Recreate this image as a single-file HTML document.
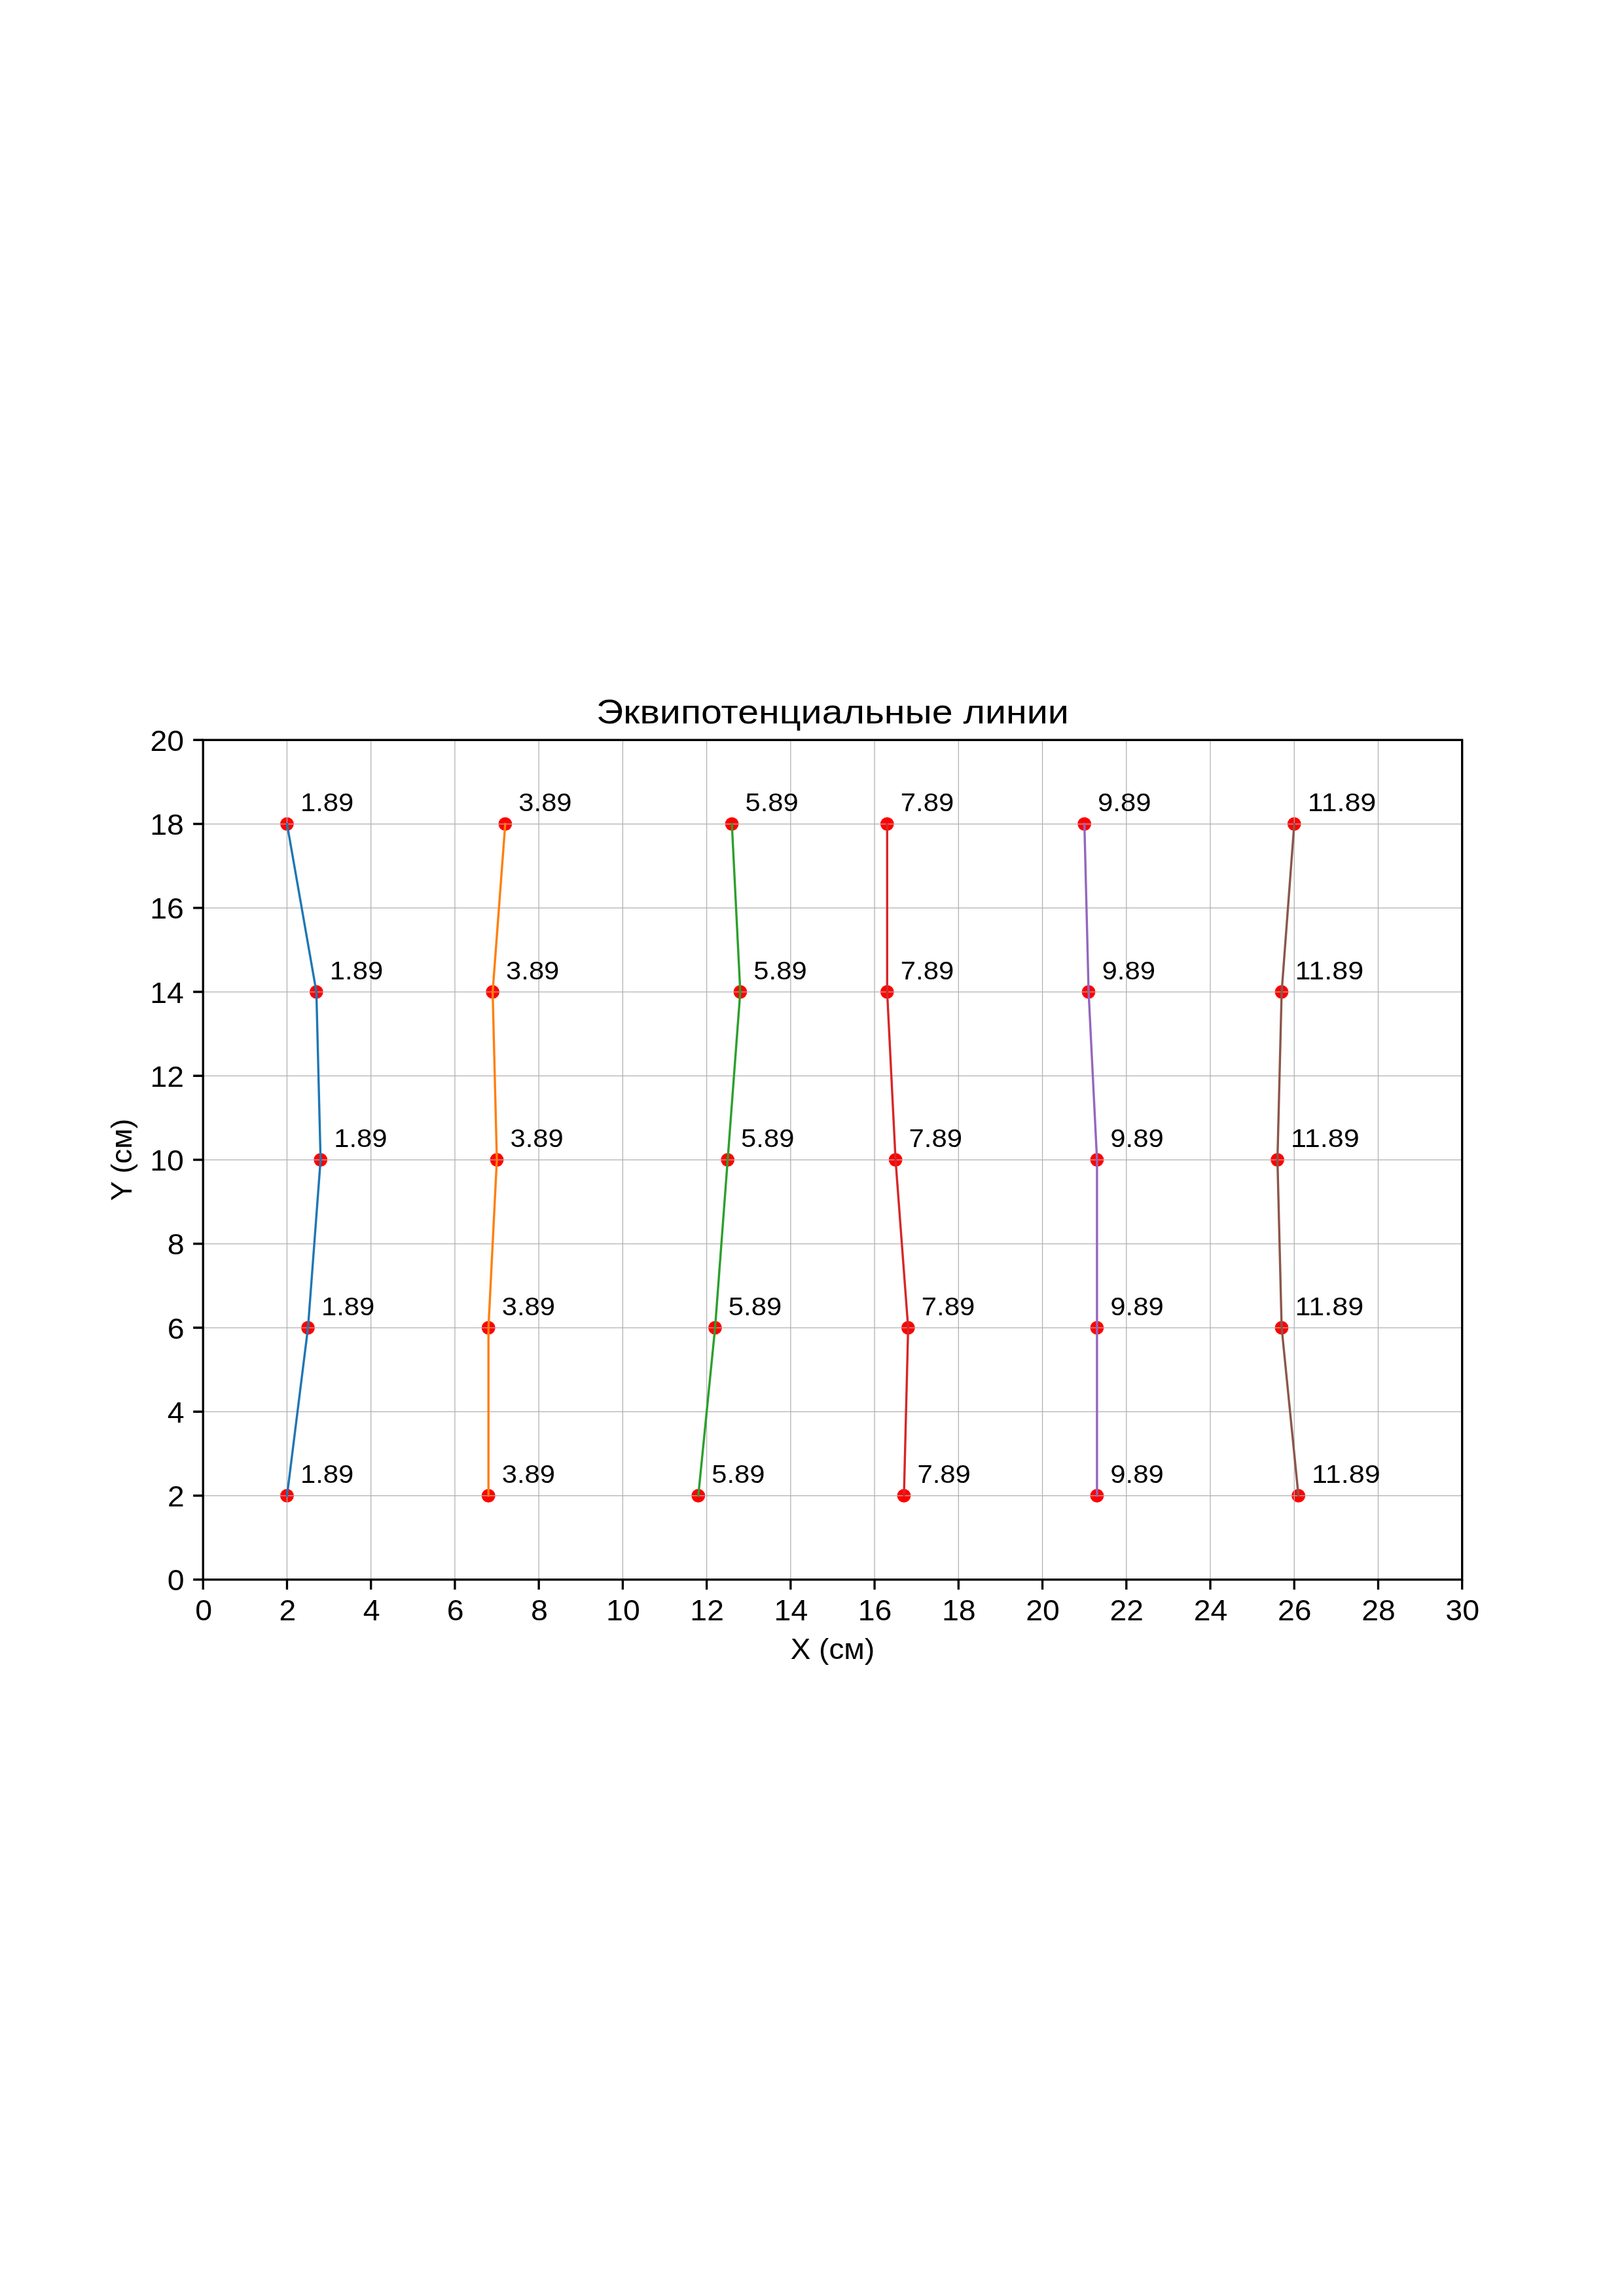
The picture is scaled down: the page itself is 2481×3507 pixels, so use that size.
<!DOCTYPE html>
<html><head><meta charset="utf-8"><title>Эквипотенциальные линии</title>
<style>html,body{margin:0;padding:0;background:#fff;}svg{display:block;will-change:transform;}text{font-family:"Liberation Sans",sans-serif;fill:#000;}</style></head><body>
<svg width="2481" height="3507" viewBox="0 0 2481 3507">
<rect width="2481" height="3507" fill="#fff"/>
<g fill="#ff0000">
<circle cx="438.47" cy="1258.53" r="10.4"/><circle cx="483.35" cy="1515.03" r="10.4"/><circle cx="489.76" cy="1771.53" r="10.4"/><circle cx="470.53" cy="2028.03" r="10.4"/><circle cx="438.47" cy="2284.53" r="10.4"/><circle cx="771.87" cy="1258.53" r="10.4"/><circle cx="752.64" cy="1515.03" r="10.4"/><circle cx="759.05" cy="1771.53" r="10.4"/><circle cx="746.22" cy="2028.03" r="10.4"/><circle cx="746.22" cy="2284.53" r="10.4"/><circle cx="1118.09" cy="1258.53" r="10.4"/><circle cx="1130.92" cy="1515.03" r="10.4"/><circle cx="1111.68" cy="1771.53" r="10.4"/><circle cx="1092.45" cy="2028.03" r="10.4"/><circle cx="1066.8" cy="2284.53" r="10.4"/><circle cx="1355.32" cy="1258.53" r="10.4"/><circle cx="1355.32" cy="1515.03" r="10.4"/><circle cx="1368.14" cy="1771.53" r="10.4"/><circle cx="1387.38" cy="2028.03" r="10.4"/><circle cx="1380.97" cy="2284.53" r="10.4"/><circle cx="1656.66" cy="1258.53" r="10.4"/><circle cx="1663.07" cy="1515.03" r="10.4"/><circle cx="1675.9" cy="1771.53" r="10.4"/><circle cx="1675.9" cy="2028.03" r="10.4"/><circle cx="1675.9" cy="2284.53" r="10.4"/><circle cx="1977.24" cy="1258.53" r="10.4"/><circle cx="1958" cy="1515.03" r="10.4"/><circle cx="1951.59" cy="1771.53" r="10.4"/><circle cx="1958" cy="2028.03" r="10.4"/><circle cx="1983.65" cy="2284.53" r="10.4"/>
</g>
<g stroke="#b0b0b0" stroke-width="1.25" fill="none">
<path d="M438.47 1130.28V2412.78M566.7 1130.28V2412.78M694.93 1130.28V2412.78M823.16 1130.28V2412.78M951.39 1130.28V2412.78M1079.62 1130.28V2412.78M1207.85 1130.28V2412.78M1336.09 1130.28V2412.78M1464.32 1130.28V2412.78M1592.55 1130.28V2412.78M1720.78 1130.28V2412.78M1849.01 1130.28V2412.78M1977.24 1130.28V2412.78M2105.47 1130.28V2412.78M310.24 2284.53H2233.7M310.24 2156.28H2233.7M310.24 2028.03H2233.7M310.24 1899.78H2233.7M310.24 1771.53H2233.7M310.24 1643.28H2233.7M310.24 1515.03H2233.7M310.24 1386.78H2233.7M310.24 1258.53H2233.7"/>
</g>
<polyline points="438.47,1258.53 483.35,1515.03 489.76,1771.53 470.53,2028.03 438.47,2284.53" fill="none" stroke="#1f77b4" stroke-width="3.4" stroke-linejoin="round" stroke-linecap="square"/>
<polyline points="771.87,1258.53 752.64,1515.03 759.05,1771.53 746.22,2028.03 746.22,2284.53" fill="none" stroke="#ff7f0e" stroke-width="3.4" stroke-linejoin="round" stroke-linecap="square"/>
<polyline points="1118.09,1258.53 1130.92,1515.03 1111.68,1771.53 1092.45,2028.03 1066.8,2284.53" fill="none" stroke="#2ca02c" stroke-width="3.4" stroke-linejoin="round" stroke-linecap="square"/>
<polyline points="1355.32,1258.53 1355.32,1515.03 1368.14,1771.53 1387.38,2028.03 1380.97,2284.53" fill="none" stroke="#d62728" stroke-width="3.4" stroke-linejoin="round" stroke-linecap="square"/>
<polyline points="1656.66,1258.53 1663.07,1515.03 1675.9,1771.53 1675.9,2028.03 1675.9,2284.53" fill="none" stroke="#9467bd" stroke-width="3.4" stroke-linejoin="round" stroke-linecap="square"/>
<polyline points="1977.24,1258.53 1958,1515.03 1951.59,1771.53 1958,2028.03 1983.65,2284.53" fill="none" stroke="#8c564b" stroke-width="3.4" stroke-linejoin="round" stroke-linecap="square"/>
<rect x="310.24" y="1130.28" width="1923.46" height="1282.5" fill="none" stroke="#000" stroke-width="3.333" stroke-linejoin="miter"/>
<path d="M310.24 2412.78v15.1M438.47 2412.78v15.1M566.7 2412.78v15.1M694.93 2412.78v15.1M823.16 2412.78v15.1M951.39 2412.78v15.1M1079.62 2412.78v15.1M1207.85 2412.78v15.1M1336.09 2412.78v15.1M1464.32 2412.78v15.1M1592.55 2412.78v15.1M1720.78 2412.78v15.1M1849.01 2412.78v15.1M1977.24 2412.78v15.1M2105.47 2412.78v15.1M2233.7 2412.78v15.1M310.24 2412.78h-15.1M310.24 2284.53h-15.1M310.24 2156.28h-15.1M310.24 2028.03h-15.1M310.24 1899.78h-15.1M310.24 1771.53h-15.1M310.24 1643.28h-15.1M310.24 1515.03h-15.1M310.24 1386.78h-15.1M310.24 1258.53h-15.1M310.24 1130.28h-15.1" stroke="#000" stroke-width="3.333" fill="none"/>
<text x="458.91" y="1239.29" font-size="39.38" textLength="81.41" lengthAdjust="spacingAndGlyphs">1.89</text>
<text x="503.79" y="1495.79" font-size="39.38" textLength="81.41" lengthAdjust="spacingAndGlyphs">1.89</text>
<text x="510.2" y="1752.29" font-size="39.38" textLength="81.41" lengthAdjust="spacingAndGlyphs">1.89</text>
<text x="490.96" y="2008.79" font-size="39.38" textLength="81.41" lengthAdjust="spacingAndGlyphs">1.89</text>
<text x="458.91" y="2265.29" font-size="39.38" textLength="81.41" lengthAdjust="spacingAndGlyphs">1.89</text>
<text x="792.31" y="1239.29" font-size="39.38" textLength="81.29" lengthAdjust="spacingAndGlyphs">3.89</text>
<text x="773.07" y="1495.79" font-size="39.38" textLength="81.29" lengthAdjust="spacingAndGlyphs">3.89</text>
<text x="779.48" y="1752.29" font-size="39.38" textLength="81.29" lengthAdjust="spacingAndGlyphs">3.89</text>
<text x="766.66" y="2008.79" font-size="39.38" textLength="81.29" lengthAdjust="spacingAndGlyphs">3.89</text>
<text x="766.66" y="2265.29" font-size="39.38" textLength="81.29" lengthAdjust="spacingAndGlyphs">3.89</text>
<text x="1138.53" y="1239.29" font-size="39.38" textLength="81.29" lengthAdjust="spacingAndGlyphs">5.89</text>
<text x="1151.35" y="1495.79" font-size="39.38" textLength="81.29" lengthAdjust="spacingAndGlyphs">5.89</text>
<text x="1132.12" y="1752.29" font-size="39.38" textLength="81.29" lengthAdjust="spacingAndGlyphs">5.89</text>
<text x="1112.88" y="2008.79" font-size="39.38" textLength="81.29" lengthAdjust="spacingAndGlyphs">5.89</text>
<text x="1087.24" y="2265.29" font-size="39.38" textLength="81.29" lengthAdjust="spacingAndGlyphs">5.89</text>
<text x="1375.75" y="1239.29" font-size="39.38" textLength="81.53" lengthAdjust="spacingAndGlyphs">7.89</text>
<text x="1375.75" y="1495.79" font-size="39.38" textLength="81.53" lengthAdjust="spacingAndGlyphs">7.89</text>
<text x="1388.58" y="1752.29" font-size="39.38" textLength="81.53" lengthAdjust="spacingAndGlyphs">7.89</text>
<text x="1407.81" y="2008.79" font-size="39.38" textLength="81.53" lengthAdjust="spacingAndGlyphs">7.89</text>
<text x="1401.4" y="2265.29" font-size="39.38" textLength="81.53" lengthAdjust="spacingAndGlyphs">7.89</text>
<text x="1677.1" y="1239.29" font-size="39.38" textLength="81.41" lengthAdjust="spacingAndGlyphs">9.89</text>
<text x="1683.51" y="1495.79" font-size="39.38" textLength="81.41" lengthAdjust="spacingAndGlyphs">9.89</text>
<text x="1696.33" y="1752.29" font-size="39.38" textLength="81.41" lengthAdjust="spacingAndGlyphs">9.89</text>
<text x="1696.33" y="2008.79" font-size="39.38" textLength="81.41" lengthAdjust="spacingAndGlyphs">9.89</text>
<text x="1696.33" y="2265.29" font-size="39.38" textLength="81.41" lengthAdjust="spacingAndGlyphs">9.89</text>
<text x="1997.67" y="1239.29" font-size="39.38" textLength="104.69" lengthAdjust="spacingAndGlyphs">11.89</text>
<text x="1978.44" y="1495.79" font-size="39.38" textLength="104.69" lengthAdjust="spacingAndGlyphs">11.89</text>
<text x="1972.03" y="1752.29" font-size="39.38" textLength="104.69" lengthAdjust="spacingAndGlyphs">11.89</text>
<text x="1978.44" y="2008.79" font-size="39.38" textLength="104.69" lengthAdjust="spacingAndGlyphs">11.89</text>
<text x="2004.08" y="2265.29" font-size="39.38" textLength="104.69" lengthAdjust="spacingAndGlyphs">11.89</text>
<text x="1207.72" y="2533.61" font-size="43.75" textLength="128.5" lengthAdjust="spacingAndGlyphs">X (см)</text>
<text x="298.19" y="2474.95" font-size="43.75" textLength="25.84" lengthAdjust="spacingAndGlyphs">0</text>
<text x="426.48" y="2474.95" font-size="43.75" textLength="25.72" lengthAdjust="spacingAndGlyphs">2</text>
<text x="554.65" y="2474.95" font-size="43.75" textLength="25.84" lengthAdjust="spacingAndGlyphs">4</text>
<text x="682.88" y="2474.95" font-size="43.75" textLength="25.84" lengthAdjust="spacingAndGlyphs">6</text>
<text x="811.05" y="2474.95" font-size="43.75" textLength="25.96" lengthAdjust="spacingAndGlyphs">8</text>
<text x="926.09" y="2474.95" font-size="43.75" textLength="51.67" lengthAdjust="spacingAndGlyphs">10</text>
<text x="1054.39" y="2474.95" font-size="43.75" textLength="51.55" lengthAdjust="spacingAndGlyphs">12</text>
<text x="1182.55" y="2474.95" font-size="43.75" textLength="51.67" lengthAdjust="spacingAndGlyphs">14</text>
<text x="1310.79" y="2474.95" font-size="43.75" textLength="51.67" lengthAdjust="spacingAndGlyphs">16</text>
<text x="1438.95" y="2474.95" font-size="43.75" textLength="51.8" lengthAdjust="spacingAndGlyphs">18</text>
<text x="1567.31" y="2474.95" font-size="43.75" textLength="51.55" lengthAdjust="spacingAndGlyphs">20</text>
<text x="1695.6" y="2474.95" font-size="43.75" textLength="51.43" lengthAdjust="spacingAndGlyphs">22</text>
<text x="1823.77" y="2474.95" font-size="43.75" textLength="51.55" lengthAdjust="spacingAndGlyphs">24</text>
<text x="1952" y="2474.95" font-size="43.75" textLength="51.55" lengthAdjust="spacingAndGlyphs">26</text>
<text x="2080.17" y="2474.95" font-size="43.75" textLength="51.67" lengthAdjust="spacingAndGlyphs">28</text>
<text x="2208.34" y="2474.95" font-size="43.75" textLength="51.8" lengthAdjust="spacingAndGlyphs">30</text>
<text transform="translate(201.28 1834.22) rotate(-90)" x="0" y="0" font-size="43.75" textLength="125.38" lengthAdjust="spacingAndGlyphs">Y (см)</text>
<text x="255.77" y="2429.28" font-size="43.75" textLength="25.84" lengthAdjust="spacingAndGlyphs">0</text>
<text x="255.9" y="2301.03" font-size="43.75" textLength="25.72" lengthAdjust="spacingAndGlyphs">2</text>
<text x="255.77" y="2172.78" font-size="43.75" textLength="25.84" lengthAdjust="spacingAndGlyphs">4</text>
<text x="255.77" y="2044.53" font-size="43.75" textLength="25.84" lengthAdjust="spacingAndGlyphs">6</text>
<text x="255.65" y="1916.28" font-size="43.75" textLength="25.96" lengthAdjust="spacingAndGlyphs">8</text>
<text x="229.27" y="1788.03" font-size="43.75" textLength="51.67" lengthAdjust="spacingAndGlyphs">10</text>
<text x="229.4" y="1659.78" font-size="43.75" textLength="51.55" lengthAdjust="spacingAndGlyphs">12</text>
<text x="229.27" y="1531.53" font-size="43.75" textLength="51.67" lengthAdjust="spacingAndGlyphs">14</text>
<text x="229.27" y="1403.28" font-size="43.75" textLength="51.67" lengthAdjust="spacingAndGlyphs">16</text>
<text x="229.15" y="1275.03" font-size="43.75" textLength="51.8" lengthAdjust="spacingAndGlyphs">18</text>
<text x="229.4" y="1146.78" font-size="43.75" textLength="51.55" lengthAdjust="spacingAndGlyphs">20</text>
<text x="911.09" y="1105.28" font-size="52.5" textLength="721.75" lengthAdjust="spacingAndGlyphs">Эквипотенциальные линии</text>
</svg>
</body></html>
